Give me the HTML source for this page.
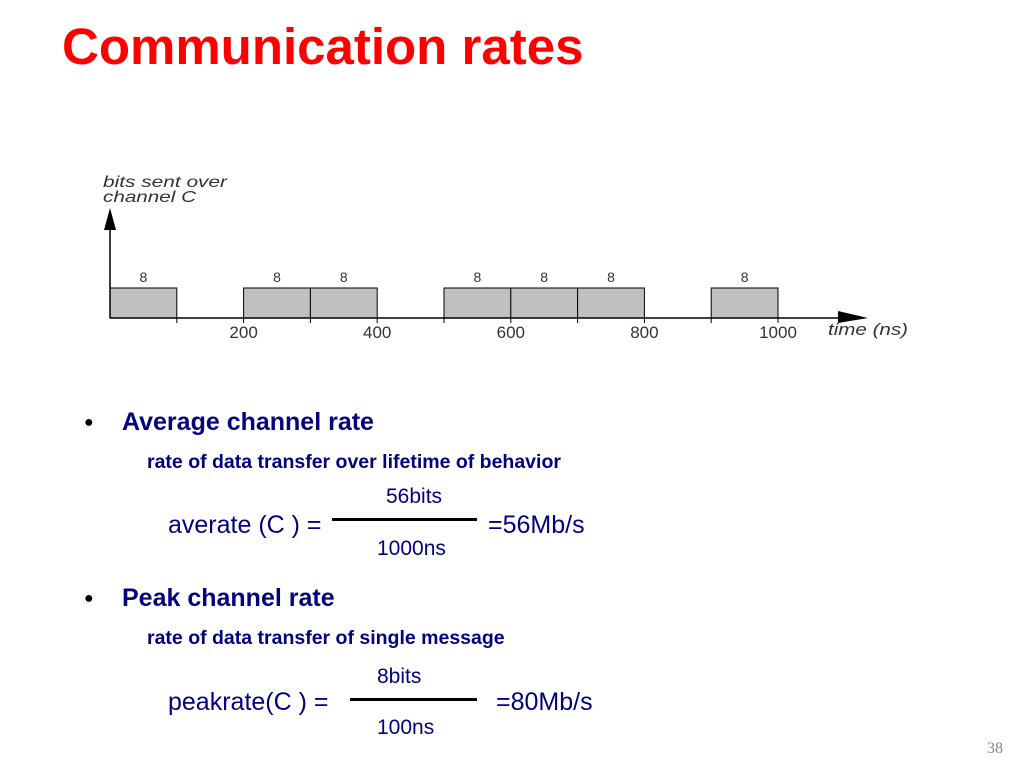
<!DOCTYPE html>
<html><head><meta charset="utf-8"><style>
body{margin:0;width:1024px;height:768px;background:#fff;position:relative;overflow:hidden;font-family:"Liberation Sans",sans-serif}
.a{position:absolute;white-space:nowrap}
</style></head><body>
<div class="a" style="left:62px;top:17px;font-size:51px;font-weight:bold;color:#f00">Communication rates</div>
<svg class="a" style="left:0;top:0" width="1024" height="400">
<text x="103" y="187" font-size="16" font-style="italic" fill="#333" textLength="124" lengthAdjust="spacingAndGlyphs">bits sent over</text>
<text x="103" y="202" font-size="16" font-style="italic" fill="#333" textLength="93" lengthAdjust="spacingAndGlyphs">channel C</text>
<g id="g"></g>
<line x1="110" y1="318" x2="110" y2="222" stroke="#000" stroke-width="1.5"/>
<polygon points="104,230 110,208 116,230" fill="#000"/>
<line x1="110" y1="318" x2="850" y2="318" stroke="#000" stroke-width="1.5"/>
<polygon points="838,311 868,318 838,323" fill="#000"/>
<text x="828" y="335" font-size="17" font-style="italic" fill="#333" textLength="80" lengthAdjust="spacingAndGlyphs">time (ns)</text>
</svg>
<script>
const msgStarts=[0,200,300,500,600,700,900];
const msgBits=[8,8,8,8,8,8,8];
const tickVals=[100,200,300,400,500,600,700,800,900,1000];
const tickLabels=[200,400,600,800,1000];
const X=v=>110+v*0.668, Y0=318, H=30;
const g=document.getElementById('g'),ns='http://www.w3.org/2000/svg';
msgStarts.forEach((s,i)=>{
 const r=document.createElementNS(ns,'rect');
 r.setAttribute('x',X(s));r.setAttribute('y',Y0-H);r.setAttribute('width',X(s+100)-X(s));r.setAttribute('height',H);
 r.setAttribute('fill','#c0c0c0');r.setAttribute('stroke','#000');
 
 
 g.appendChild(r);
 const t=document.createElementNS(ns,'text');
 t.setAttribute('x',X(s+50));t.setAttribute('y',Y0-H-6);t.setAttribute('font-size','14');t.setAttribute('text-anchor','middle');t.setAttribute('fill','#333');
 t.textContent=msgBits[i];
 
 
 g.appendChild(t);
});
tickVals.forEach(v=>{
 const l=document.createElementNS(ns,'line');
 l.setAttribute('x1',X(v));l.setAttribute('x2',X(v));l.setAttribute('y1',Y0);l.setAttribute('y2',Y0+5);l.setAttribute('stroke','#000');
 
 
 g.appendChild(l);
});
tickLabels.forEach(v=>{
 const t=document.createElementNS(ns,'text');
 t.setAttribute('x',X(v));t.setAttribute('y',Y0+20);t.setAttribute('font-size','17');t.setAttribute('text-anchor','middle');t.setAttribute('fill','#333');
 t.textContent=v;
 
 
 g.appendChild(t);
});
</script>
<div class="a" style="left:84px;top:414px;font-size:16px;color:#000">●</div>
<div class="a" style="left:122px;top:408px;font-size:25px;font-weight:bold;color:#000080">Average channel rate</div>
<div class="a" style="left:147px;top:451px;font-size:19.5px;font-weight:bold;color:#000080">rate of data transfer over lifetime of behavior</div>
<div class="a" style="left:386px;top:485px;font-size:21px;color:#000080">56bits</div>
<div class="a" style="left:168px;top:511px;font-size:25px;color:#000080">averate (C ) =</div>
<div class="a" style="left:332px;top:518px;width:145px;height:3px;background:#000"></div>
<div class="a" style="left:488px;top:511px;font-size:25px;color:#000080">=56Mb/s</div>
<div class="a" style="left:377px;top:537px;font-size:21px;color:#000080">1000ns</div>
<div class="a" style="left:84px;top:590px;font-size:16px;color:#000">●</div>
<div class="a" style="left:122px;top:584px;font-size:25px;font-weight:bold;color:#000080">Peak channel rate</div>
<div class="a" style="left:147px;top:627px;font-size:19.5px;font-weight:bold;color:#000080">rate of data transfer of single message</div>
<div class="a" style="left:377px;top:665px;font-size:21px;color:#000080">8bits</div>
<div class="a" style="left:168px;top:688px;font-size:25px;color:#000080">peakrate(C ) =</div>
<div class="a" style="left:350px;top:698px;width:127px;height:3px;background:#000"></div>
<div class="a" style="left:496px;top:688px;font-size:25px;color:#000080">=80Mb/s</div>
<div class="a" style="left:377px;top:716px;font-size:21px;color:#000080">100ns</div>
<div class="a" style="left:987px;top:740px;font-size:16px;color:#888;font-family:'Liberation Serif',serif">38</div>
</body></html>
